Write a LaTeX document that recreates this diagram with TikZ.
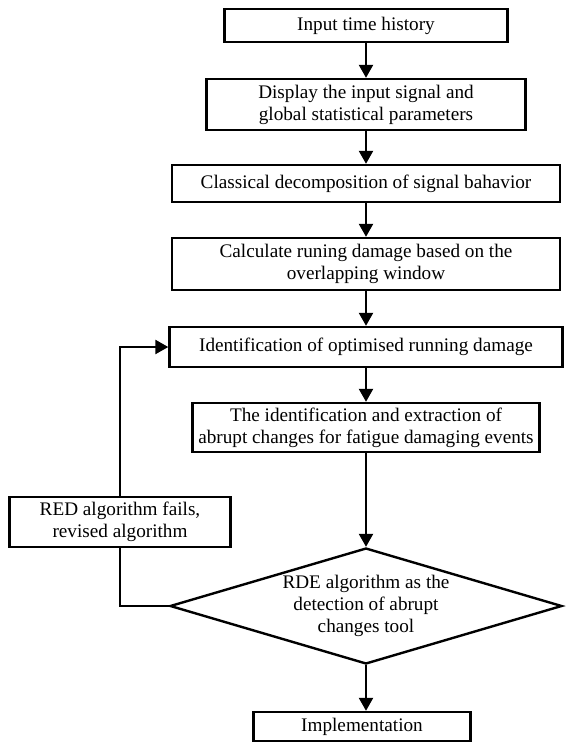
\documentclass[tikz,border=0pt]{standalone}
\usepackage{fontspec}
\setmainfont{Liberation Serif}
\usepackage{tikz}
\usetikzlibrary{shapes.geometric,arrows.meta}

\begin{document}
\begin{tikzpicture}[x=1pt,y=-1pt,
    font=\fontsize{19.2}{22}\selectfont,
    stagebox/.style={draw, line width=2.4pt, align=center, inner sep=0pt},
    decision/.style={draw, diamond, line width=2.4pt, align=center, inner sep=0pt, aspect=3.38},
    flow/.style={line width=2.4pt, -{Triangle[length=13pt,width=14pt]}},
    link/.style={line width=2.4pt}]
    \useasboundingbox (0,0) rectangle (566,742);
    \node[stagebox, minimum width=283pt, minimum height=33pt] (input) at (366,25.5) {Input time history};
    \node[stagebox, minimum width=319pt, minimum height=51pt] (display) at (366,104.5) {Display the input signal and\\global statistical parameters};
    \node[stagebox, minimum width=388pt, minimum height=37pt] (classic) at (366,183.5) {Classical decomposition of signal bahavior};
    \node[stagebox, minimum width=388pt, minimum height=52pt] (running) at (366,264) {Calculate runing damage based on the\\overlapping window};
    \node[stagebox, minimum width=393pt, minimum height=40pt] (optim) at (366,347) {Identification of optimised running damage};
    \node[stagebox, minimum width=347pt, minimum height=49pt] (events) at (366,427.5) {The identification and extraction of\\abrupt changes for fatigue damaging events};
    \node[decision, minimum width=392pt, minimum height=116pt] (rde) at (366,606) {RDE algorithm as the\\detection of abrupt\\changes tool};
    \node[stagebox, minimum width=217pt, minimum height=29pt] (impl) at (362,726.5) {Implementation};
    \node[stagebox, minimum width=221pt, minimum height=50pt] (revise) at (120,522) {RED algorithm fails,\\revised algorithm};

    \draw[flow] (input) -- (display);
    \draw[flow] (display) -- (classic);
    \draw[flow] (classic) -- (running);
    \draw[flow] (running) -- (optim);
    \draw[flow] (optim) -- (events);
    \draw[flow] (events) -- (rde);
    \draw[flow] (rde.south) -- (impl.north -| rde.south);
    \draw[link] (rde.west) -| (revise.south);
    \draw[flow] (revise.north) |- (optim.west);
\end{tikzpicture}
\end{document}
